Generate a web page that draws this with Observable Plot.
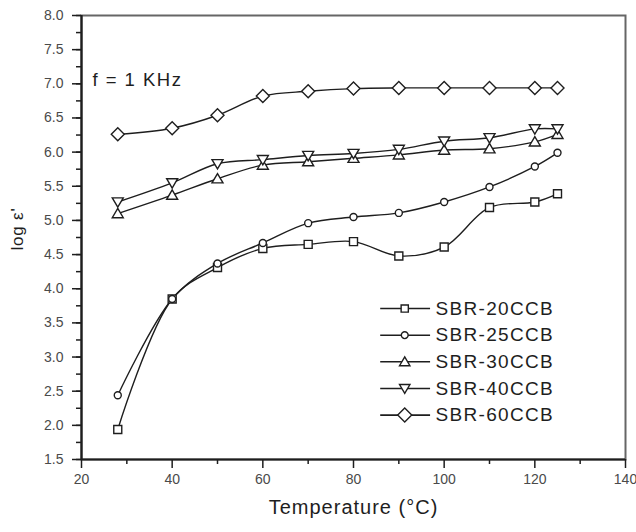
<!DOCTYPE html>
<html>
<head>
<meta charset="utf-8">
<script src="https://cdn.jsdelivr.net/npm/d3@7"></script>
<script src="https://cdn.jsdelivr.net/npm/@observablehq/plot@0.6"></script>
<style>
  html, body { margin: 0; padding: 0; background: #fff; }
  #chart svg { font-family: "Liberation Sans", Arial, sans-serif; display: block; }
</style>
</head>
<body>
<div id="chart"></div>
<script>
const temps = [28, 40, 50, 60, 70, 80, 90, 100, 110, 120, 125];
const seriesNames = ["SBR-20CCB", "SBR-25CCB", "SBR-30CCB", "SBR-40CCB", "SBR-60CCB"];
const sbr20 = [1.94, 3.85, 4.31, 4.59, 4.65, 4.69, 4.48, 4.61, 5.19, 5.27, 5.39];
const sbr25 = [2.44, 3.85, 4.37, 4.67, 4.96, 5.05, 5.11, 5.27, 5.49, 5.79, 5.99];
const sbr30 = [5.10, 5.37, 5.61, 5.81, 5.86, 5.91, 5.96, 6.03, 6.05, 6.15, 6.26];
const sbr40 = [5.27, 5.55, 5.83, 5.89, 5.95, 5.98, 6.04, 6.16, 6.21, 6.34, 6.34];
const sbr60 = [6.26, 6.35, 6.54, 6.82, 6.89, 6.93, 6.94, 6.94, 6.94, 6.94, 6.94];
const xTicks = [20, 40, 60, 80, 100, 120, 140];
const yTicks = [1.5, 2.0, 2.5, 3.0, 3.5, 4.0, 4.5, 5.0, 5.5, 6.0, 6.5, 7.0, 7.5, 8.0];
const annotation = "f = 1 KHz";
const xLabel = "Temperature (°C)";
const yLabel = "log ε'";

const seriesValues = [sbr20, sbr25, sbr30, sbr40, sbr60];

// custom marker shapes (Origin-like)
const symSquare = {draw(ctx, size) { const r = Math.sqrt(size / Math.PI); ctx.rect(-r, -r, 2 * r, 2 * r); }};
const symCircle = {draw(ctx, size) { const r = Math.sqrt(size / Math.PI); ctx.moveTo(r, 0); ctx.arc(0, 0, r, 0, 2 * Math.PI); }};
const symUp = {draw(ctx, size) { const r = Math.sqrt(size / Math.PI); ctx.moveTo(0, -r * 0.95); ctx.lineTo(r, r * 0.75); ctx.lineTo(-r, r * 0.75); ctx.closePath(); }};
const symDown = {draw(ctx, size) { const r = Math.sqrt(size / Math.PI); ctx.moveTo(-r, -r * 0.75); ctx.lineTo(r, -r * 0.75); ctx.lineTo(0, r * 0.95); ctx.closePath(); }};
const symDiamond = {draw(ctx, size) { const r = Math.sqrt(size / Math.PI); ctx.moveTo(0, -r); ctx.lineTo(r, 0); ctx.lineTo(0, r); ctx.lineTo(-r, 0); ctx.closePath(); }};
const symbols = [symSquare, symCircle, symUp, symDown, symDiamond];
const symR = [4, 3.5, 5.5, 5.5, 6.5];
const legR = [3.6, 3.4, 5.2, 5.2, 7];

const rows = [];
seriesNames.forEach((name, i) => {
  temps.forEach((t, j) => rows.push({series: name, idx: i, t, v: seriesValues[i][j]}));
});

const ink = "#1e1e1e";
const marks = [];

// frame + axes
marks.push(Plot.frame({stroke: "#666", strokeWidth: 2}));
marks.push(Plot.axisY({ticks: d3.range(1.5, 8.001, 0.25), tickSize: 5, tickFormat: () => "", stroke: ink, strokeWidth: 1.5, label: null}));
marks.push(Plot.axisY({ticks: yTicks, tickSize: 9, tickPadding: 9, tickFormat: d3.format(".1f"), fontSize: 14, fill: "#4a4a4a", stroke: ink, strokeWidth: 1.5, label: null}));
marks.push(Plot.axisX({ticks: d3.range(30, 140, 20), tickSize: 5, tickFormat: () => "", stroke: ink, strokeWidth: 1.5, label: null}));
marks.push(Plot.axisX({ticks: xTicks, tickSize: 9, tickPadding: 6, tickFormat: d3.format("d"), fontSize: 14, fill: "#4a4a4a", stroke: ink, strokeWidth: 1.5, label: null}));
marks.push(Plot.ruleX([20], {stroke: ink, strokeWidth: 2.2}));
marks.push(Plot.ruleY([1.5], {stroke: ink, strokeWidth: 2.2}));

// lines
marks.push(Plot.line(rows, {x: "t", y: "v", z: "series", curve: "catmull-rom", stroke: ink, strokeWidth: 1.4}));

// markers
seriesNames.forEach((name, i) => {
  marks.push(Plot.dot(rows.filter(d => d.idx === i), {x: "t", y: "v", symbol: symbols[i], r: symR[i], fill: "white", stroke: ink, strokeWidth: 1.4}));
});

// legend (drawn in data space, lower right inside plot)
const legY = seriesNames.map((n, i) => ({name: n, i, y: 3.71 - i * 0.39}));
marks.push(Plot.ruleY(legY, {y: "y", x1: 86.0, x2: 97.0, stroke: ink, strokeWidth: 1.6}));
seriesNames.forEach((name, i) => {
  marks.push(Plot.dot([legY[i]], {x: 91.3, y: "y", symbol: symbols[i], r: legR[i], fill: "white", stroke: ink, strokeWidth: 1.4}));
});
marks.push(Plot.text(legY, {x: 98.1, y: "y", text: "name", textAnchor: "start", fontSize: 19, fill: ink}));

// annotation
marks.push(Plot.text([annotation], {x: 22.4, y: 7.05, text: d => d, textAnchor: "start", fontSize: 18.5, fill: ink}));

// axis titles
marks.push(Plot.text([xLabel], {frameAnchor: "bottom", dy: 54, text: d => d, fontSize: 20, fill: ink}));
marks.push(Plot.text([yLabel], {frameAnchor: "left", dx: -64, dy: 13, rotate: -90, text: d => d, fontSize: 17, fill: ink}));

const chart = Plot.plot({
  width: 636,
  height: 532,
  marginLeft: 81,
  marginRight: 11,
  marginTop: 15,
  marginBottom: 73,
  x: {domain: [20, 140]},
  y: {domain: [1.5, 8]},
  style: {background: "white", fontFamily: "'Liberation Sans', Arial, sans-serif"},
  marks
});

// letter spacing of the text marks (legend, annotation, x title, y title)
const spacing = ["1.3px", "1.5px", "1px", "0.8px"];
d3.select(chart).selectAll('g[aria-label="text"]').each(function(_, i) {
  d3.select(this).attr("letter-spacing", spacing[i] || null);
});
document.getElementById("chart").appendChild(chart);
</script>
</body>
</html>
